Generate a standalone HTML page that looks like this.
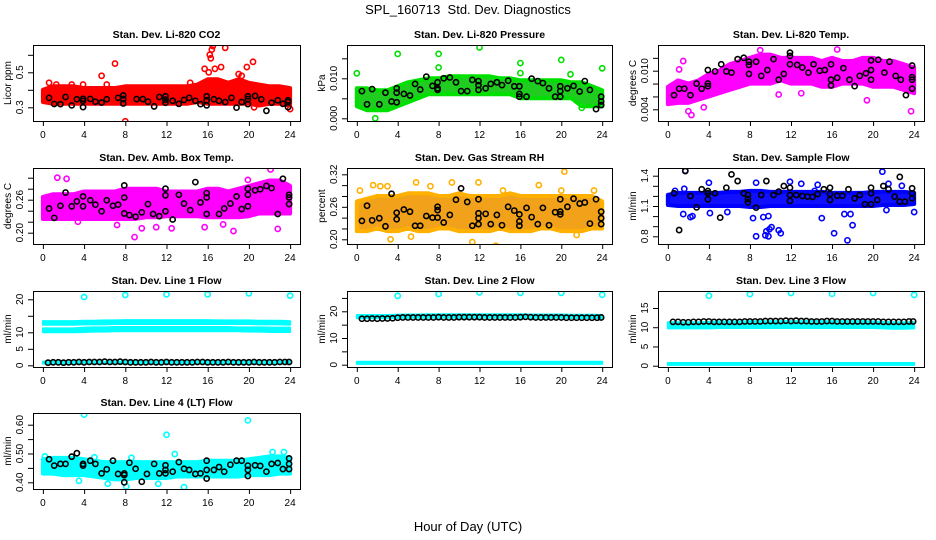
<!DOCTYPE html>
<html><head><meta charset="utf-8"><title>SPL_160713 Std. Dev. Diagnostics</title>
<style>
html,body{margin:0;padding:0;background:#fff;}
svg{display:block;font-family:"Liberation Sans",Arial,sans-serif;}
</style></head>
<body>
<svg id="chart" width="936" height="540" viewBox="0 0 936 540" xmlns="http://www.w3.org/2000/svg">
<text x="468" y="14" text-anchor="middle" font-size="13" style="white-space:pre">SPL_160713  Std. Dev. Diagnostics</text>
<text x="468" y="531" text-anchor="middle" font-size="13">Hour of Day (UTC)</text>
</svg>
<script>
// ---------- DATA ----------
const HOURS=[0,1,2,3,4,5,6,7,8,9,10,11,12,13,14,15,16,17,18,19,20,21,22,23,24];
const xTicks=[0,4,8,12,16,20,24];
const xTickLabels=["0","4","8","12","16","20","24"];
const halfHours=[0.5,1,1.5,2,2.5,3,3.5,4,4.5,5,5.5,6,6.5,7,7.5,8,8.5,9,9.5,10,10.5,11,11.5,12,12.5,13,13.5,14,14.5,15,15.5,16,16.5,17,17.5,18,18.5,19,19.5,20,20.5,21,21.5,22,22.5,23,23.5,23.9];
const spikeHours=[4,8,12,16,20,24];

// Panel 1 CO2
const lo1=[0.33,0.32,0.32,0.32,0.32,0.32,0.32,0.32,0.32,0.32,0.32,0.32,0.32,0.32,0.32,0.33,0.32,0.32,0.32,0.32,0.32,0.31,0.32,0.32,0.31];
const hi1=[0.40,0.42,0.42,0.42,0.41,0.41,0.41,0.41,0.42,0.42,0.42,0.42,0.42,0.42,0.42,0.43,0.46,0.46,0.44,0.46,0.44,0.43,0.42,0.42,0.41];
const ox1=[0.6,1.3,2.8,3.9,5.7,6.2,7,8,14.3,15.7,16.2,16.4,16.5,16.3,16.7,17.3,17.7,19,19.3,19.8,20.4,20.5,24,16.1];
const oy1=[0.44,0.43,0.43,0.43,0.48,0.43,0.55,0.22,0.44,0.52,0.60,0.63,0.65,0.58,0.52,0.53,0.64,0.49,0.48,0.53,0.56,0.30,0.29,0.50];
const bx1=[0.6,1.1,1.7,2.2,2.8,3.3,3.9,3.9,3.9,4.6,5.1,5.7,6.2,7.3,7.8,7.8,7.8,9.1,9.7,10.2,10.8,11.3,11.9,11.9,11.9,12.6,13.2,13.7,14.2,14.8,15.3,15.9,15.9,15.9,16.6,17.1,17.7,18.3,18.8,19.3,19.9,19.9,19.9,20.6,21.2,21.7,22.2,22.8,23.3,23.8,23.8,23.8];
const by1=[0.354,0.319,0.318,0.359,0.311,0.346,0.349,0.337,0.301,0.348,0.332,0.327,0.346,0.354,0.368,0.347,0.322,0.347,0.347,0.332,0.305,0.359,0.363,0.344,0.326,0.337,0.320,0.342,0.354,0.337,0.318,0.363,0.340,0.311,0.346,0.337,0.330,0.354,0.298,0.330,0.363,0.347,0.318,0.365,0.346,0.280,0.326,0.340,0.320,0.340,0.330,0.301];

// Panel 2 Pressure
const lo2=[0.003,0.002,0.002,0.002,0.003,0.004,0.005,0.006,0.006,0.006,0.006,0.006,0.006,0.006,0.006,0.006,0.005,0.005,0.005,0.005,0.005,0.005,0.003,0.003,0.003];
const hi2=[0.0075,0.0075,0.007,0.007,0.008,0.009,0.0095,0.010,0.010,0.0105,0.0105,0.0105,0.0105,0.0105,0.010,0.010,0.0095,0.0095,0.0095,0.0095,0.0095,0.009,0.009,0.008,0.007];
const ox2=[0,4,8,8,12,16,16,20,20.9,24,1.8,22];
const oy2=[0.01125,0.0161,0.0161,0.0127,0.0177,0.0138,0.0113,0.0146,0.011,0.0125,0.0,0.0026];
const bx2=[0.5,1.0,1.5,2.2,2.8,3.4,3.9,3.9,3.9,4.6,5.2,5.7,6.2,6.8,7.4,7.9,7.9,7.9,8.5,9.1,9.7,10.2,10.8,11.3,11.9,11.9,11.9,12.6,13.1,13.7,14.2,14.8,15.4,15.9,15.9,15.9,16.6,17.1,17.7,18.2,18.8,19.4,19.9,19.9,19.9,20.6,21.2,21.8,22.3,22.8,23.4,23.9,23.9,23.9];
const by2=[0.0068,0.0035,0.0073,0.0035,0.0064,0.0042,0.0075,0.0064,0.0040,0.0061,0.0057,0.0086,0.0072,0.0104,0.0081,0.0090,0.0075,0.0071,0.0100,0.0102,0.0090,0.0068,0.0068,0.0096,0.0093,0.0083,0.0071,0.0075,0.0086,0.0090,0.0083,0.0094,0.0080,0.0080,0.0061,0.0054,0.0054,0.0099,0.0093,0.0088,0.0075,0.0054,0.0080,0.0068,0.0054,0.0075,0.0081,0.0067,0.0093,0.0071,0.0023,0.0054,0.0042,0.0033];

// Panel 3 Li-820 Temp
const lo3=[0.0048,0.005,0.005,0.0055,0.006,0.0065,0.007,0.0075,0.008,0.008,0.008,0.0085,0.008,0.008,0.008,0.0075,0.0075,0.008,0.008,0.008,0.0075,0.0075,0.0075,0.007,0.0065];
const hi3=[0.0075,0.0085,0.008,0.0085,0.0095,0.010,0.011,0.0115,0.012,0.0125,0.0125,0.012,0.012,0.012,0.012,0.0115,0.012,0.0115,0.0115,0.012,0.012,0.0115,0.0115,0.011,0.0105];
const ox3=[1.5,2.0,2.3,3.5,10.8,13,16.5,19.4,23.7,9,1.1];
const oy3=[0.0115,0.0037,0.0031,0.0043,0.0063,0.0065,0.0133,0.0054,0.0037,0.0132,0.0102];
const bx3=[0.6,1.1,1.6,2.2,2.8,3.3,3.9,3.9,3.9,4.6,5.2,5.7,6.2,6.8,7.4,7.9,7.9,7.9,8.6,9.1,9.7,10.3,10.8,11.3,11.9,11.9,11.9,12.6,13.1,13.7,14.2,14.8,15.3,15.9,15.9,15.9,16.5,17.1,17.7,18.2,18.7,19.3,19.8,19.8,19.8,20.5,21.1,21.6,22.2,22.7,23.2,23.8,23.8,23.8,23.8];
const by3=[0.0062,0.0072,0.0072,0.0062,0.0080,0.0072,0.0101,0.0080,0.0076,0.0099,0.0110,0.0099,0.0097,0.0118,0.0120,0.0114,0.0109,0.0095,0.0114,0.0092,0.0101,0.0118,0.0086,0.0095,0.0128,0.0123,0.0110,0.0109,0.0105,0.0097,0.0110,0.0100,0.0101,0.0110,0.0086,0.0077,0.0089,0.0104,0.0086,0.0076,0.0092,0.0096,0.0116,0.0101,0.0086,0.0117,0.0097,0.0114,0.0092,0.0086,0.0062,0.0108,0.0090,0.0086,0.0072];

// Panel 4 Amb Box Temp
const lo4=[0.225,0.225,0.225,0.225,0.225,0.225,0.225,0.225,0.225,0.225,0.228,0.228,0.23,0.23,0.23,0.23,0.228,0.228,0.228,0.228,0.23,0.235,0.235,0.235,0.235];
const hi4=[0.265,0.27,0.27,0.27,0.275,0.275,0.275,0.275,0.28,0.28,0.28,0.28,0.275,0.275,0.275,0.275,0.28,0.28,0.275,0.28,0.285,0.29,0.295,0.295,0.285];
const ox4=[1.4,2.3,8.9,9.6,11,12.5,17.5,18.5,22.8,22.1,19.9,15.7,3.4,7.2];
const oy4=[0.30,0.298,0.192,0.208,0.21,0.208,0.215,0.203,0.207,0.315,0.296,0.21,0.22,0.214];
const bx4=[0.6,1.1,1.7,2.2,2.8,3.3,3.9,3.9,4.6,5.1,5.7,6.2,6.8,7.3,7.9,7.9,7.9,8.4,9.0,9.6,10.2,10.7,11.3,11.9,11.9,11.9,12.6,13.2,13.7,14.3,14.8,15.3,15.9,15.9,15.9,17.1,17.6,18.2,18.8,19.3,19.9,19.9,19.9,20.6,21.1,21.7,22.2,22.8,23.3,23.9,23.9,23.9];
const by4=[0.244,0.227,0.249,0.273,0.248,0.257,0.266,0.248,0.259,0.251,0.239,0.259,0.249,0.251,0.286,0.264,0.235,0.232,0.229,0.237,0.252,0.234,0.230,0.280,0.268,0.239,0.224,0.269,0.253,0.241,0.292,0.255,0.272,0.264,0.234,0.234,0.244,0.253,0.266,0.243,0.280,0.269,0.248,0.277,0.279,0.285,0.281,0.234,0.298,0.269,0.264,0.252];

// Panel 5 Gas Stream RH
const lo5=[0.215,0.215,0.22,0.215,0.215,0.22,0.215,0.215,0.22,0.22,0.215,0.215,0.215,0.215,0.22,0.215,0.215,0.215,0.22,0.22,0.215,0.215,0.215,0.22,0.22];
const hi5=[0.27,0.275,0.28,0.28,0.28,0.285,0.285,0.285,0.28,0.28,0.285,0.28,0.28,0.28,0.28,0.285,0.28,0.28,0.28,0.28,0.28,0.28,0.28,0.28,0.27];
const ox5=[0.3,1.6,2.3,3,5.8,7.2,9.3,11.9,13.6,11.3,20.3,20,21.5,17.8,5.3,23.2,3.3,14.3];
const oy5=[0.29,0.30,0.298,0.298,0.305,0.298,0.305,0.305,0.188,0.195,0.325,0.29,0.208,0.30,0.205,0.29,0.20,0.29];
const bx5=[0.5,1.0,1.5,2.2,2.8,3.4,3.9,3.9,4.6,5.2,5.7,6.2,6.8,7.4,7.9,7.9,7.9,8.5,9.1,9.7,10.2,10.8,11.3,11.9,11.9,11.9,11.9,12.6,13.1,13.7,14.2,14.8,15.4,15.9,15.9,15.9,16.6,17.1,17.7,18.2,18.8,19.4,19.9,19.9,19.9,20.6,21.2,21.8,22.3,22.8,23.4,23.9,23.9,23.9];
const by5=[0.234,0.262,0.235,0.239,0.224,0.284,0.249,0.237,0.255,0.251,0.225,0.225,0.243,0.240,0.260,0.254,0.240,0.231,0.245,0.273,0.294,0.269,0.225,0.274,0.248,0.239,0.228,0.247,0.228,0.245,0.226,0.260,0.253,0.246,0.233,0.225,0.258,0.241,0.228,0.258,0.226,0.250,0.274,0.251,0.246,0.260,0.275,0.266,0.268,0.229,0.274,0.251,0.239,0.228];

// Panel 6 Sample Flow
const lo6=[1.11,1.10,1.10,1.10,1.10,1.10,1.10,1.10,1.09,1.09,1.10,1.10,1.10,1.10,1.10,1.10,1.10,1.10,1.10,1.10,1.10,1.11,1.11,1.11,1.12];
const hi6=[1.21,1.23,1.23,1.23,1.23,1.23,1.24,1.24,1.25,1.25,1.24,1.24,1.24,1.24,1.24,1.24,1.23,1.23,1.23,1.23,1.24,1.24,1.24,1.24,1.23];
const ox6=[1.5,2.2,2.4,4.1,5.8,8.3,8.6,9.5,9.6,9.9,10.1,10.8,11,9.8,9.3,9.8,11.9,16.2,15,17.2,18,17.8,17.5,20.9,21.5,21.3,22.8,24,4,1.7,0.7,1.6,8.6,13,14.6,14.3];
const oy6=[1.02,0.99,1.0,1.03,1.04,0.98,0.80,0.81,0.85,0.87,0.89,0.86,0.83,0.80,0.99,1.0,1.34,0.83,0.98,1.02,0.91,1.02,0.76,1.44,1.32,1.06,1.30,1.04,1.33,1.45,1.25,1.27,1.33,1.32,1.31,1.25];
const bx6=[0.6,1.1,1.7,2.2,2.8,3.3,3.9,3.9,3.9,4.6,5.1,5.7,6.2,6.8,7.4,7.8,7.8,7.8,8.6,9.1,9.6,10.3,10.8,11.3,11.9,11.9,11.9,12.5,13.1,13.6,14.1,14.6,15.2,15.8,15.8,15.8,16.5,17.0,17.6,18.2,18.7,19.2,19.8,19.8,19.8,20.4,21.0,21.5,22.1,22.6,22.6,23.1,23.8,23.8,23.8];
const by6=[1.226,0.862,1.446,1.199,1.087,1.265,1.248,1.166,1.226,1.226,0.985,1.281,1.413,1.347,1.226,1.209,1.170,1.137,1.084,1.209,1.347,1.209,1.242,1.298,1.281,1.209,1.150,1.209,1.199,1.193,1.190,1.219,1.265,1.281,1.219,1.160,1.202,1.202,1.265,1.176,1.209,1.117,1.281,1.226,1.117,1.160,1.298,1.265,1.193,1.143,1.388,1.143,1.275,1.226,1.176];

// Panel 7 Line 1 Flow
const lo7a=[12.3,12.3,12.3,12.3,12.4,12.4,12.4,12.5,12.5,12.5,12.5,12.5,12.5,12.5,12.5,12.5,12.5,12.5,12.5,12.5,12.5,12.4,12.4,12.4,12.3];
const hi7a=[13.4,13.4,13.4,13.4,13.5,13.5,13.6,13.6,13.7,13.7,13.7,13.7,13.7,13.7,13.7,13.7,13.7,13.6,13.6,13.6,13.6,13.5,13.5,13.5,13.4];
const lo7b=[10.0,10.0,10.0,10.0,10.1,10.2,10.2,10.3,10.3,10.3,10.3,10.3,10.3,10.3,10.3,10.3,10.3,10.3,10.3,10.3,10.2,10.2,10.1,10.1,10.1];
const hi7b=[11.2,11.2,11.2,11.2,11.4,11.5,11.5,11.6,11.6,11.6,11.6,11.6,11.6,11.6,11.6,11.6,11.6,11.6,11.6,11.5,11.5,11.5,11.4,11.4,11.4];
const lo7c=[0.5,0.5,0.5,0.5,0.5,0.5,0.5,0.5,0.5,0.5,0.5,0.5,0.5,0.5,0.5,0.5,0.5,0.5,0.5,0.5,0.5,0.5,0.5,0.5,0.5];
const hi7c=[1.1,1.1,1.1,1.1,1.2,1.1,1.1,1.1,1.2,1.1,1.1,1.1,1.2,1.1,1.1,1.1,1.2,1.1,1.1,1.1,1.2,1.1,1.1,1.1,1.2];
const oy7=[20.7,21.3,21.5,21.5,21.8,21.1];
const by7=[0.8,0.9,0.9,0.8,0.9,0.9,1.0,0.9,1.0,1.0,1.0,1.1,1.0,1.0,1.1,1.0,0.9,0.9,0.9,0.9,1.0,0.9,0.9,1.0,0.9,0.9,0.9,0.9,0.9,1.0,1.0,0.9,0.9,0.9,0.9,1.0,0.9,0.9,0.9,0.9,1.0,0.9,0.9,0.9,0.9,1.0,1.0,1.0];

// Panel 8 Line 2 Flow
const lo8a=[17.4,17.4,17.4,17.4,17.5,17.6,17.6,17.6,17.6,17.6,17.6,17.6,17.6,17.6,17.6,17.6,17.6,17.6,17.6,17.6,17.6,17.5,17.5,17.5,17.4];
const hi8a=[18.6,18.6,18.6,18.6,18.7,18.8,18.8,18.9,18.9,18.9,18.9,18.9,18.9,18.9,18.9,18.9,18.9,18.8,18.8,18.8,18.8,18.7,18.7,18.7,18.6];
const lo8b=[0.3,0.3,0.3,0.3,0.3,0.3,0.3,0.3,0.3,0.3,0.3,0.3,0.3,0.3,0.3,0.3,0.3,0.3,0.3,0.3,0.3,0.3,0.3,0.3,0.3];
const hi8b=[1.1,1.1,1.1,1.1,1.1,1.1,1.1,1.1,1.1,1.1,1.1,1.1,1.1,1.1,1.1,1.1,1.1,1.1,1.1,1.1,1.1,1.1,1.1,1.1,1.1];
const oy8=[25.8,26.5,27.1,26.9,26.9,26.2];
const by8=[17.2,17.2,17.3,17.2,17.3,17.3,17.4,17.6,17.7,17.7,17.7,17.7,17.7,17.7,17.7,17.8,17.7,17.7,17.7,17.8,17.8,17.8,17.8,17.8,17.7,17.7,17.7,17.7,17.7,17.7,17.7,17.8,17.9,17.8,17.7,17.7,17.7,17.7,17.7,17.7,17.6,17.6,17.6,17.6,17.6,17.6,17.6,17.7];

// Panel 9 Line 3 Flow
const lo9a=[9.7,9.7,9.7,9.7,9.7,9.8,9.8,9.8,9.8,9.8,9.8,9.8,9.8,9.8,9.8,9.8,9.8,9.8,9.8,9.8,9.8,9.7,9.6,9.6,9.7];
const hi9a=[11.3,11.3,11.3,11.3,11.4,11.5,11.5,11.5,11.6,11.6,11.6,11.6,11.6,11.6,11.7,11.6,11.6,11.6,11.6,11.6,11.5,11.4,11.3,11.3,11.3];
const lo9b=[0.2,0.2,0.2,0.2,0.2,0.2,0.2,0.2,0.2,0.2,0.2,0.2,0.2,0.2,0.2,0.2,0.2,0.2,0.2,0.2,0.2,0.2,0.2,0.2,0.2];
const hi9b=[0.7,0.7,0.7,0.7,0.7,0.7,0.7,0.7,0.7,0.7,0.7,0.7,0.7,0.7,0.7,0.7,0.7,0.7,0.7,0.7,0.7,0.7,0.7,0.7,0.7];
const oy9=[18.2,18.6,18.9,18.7,18.9,18.4];
const by9=[11.4,11.4,11.3,11.3,11.4,11.4,11.5,11.5,11.4,11.4,11.4,11.4,11.4,11.4,11.5,11.5,11.5,11.5,11.6,11.6,11.6,11.6,11.7,11.6,11.7,11.6,11.6,11.5,11.5,11.5,11.6,11.6,11.5,11.5,11.5,11.5,11.5,11.5,11.5,11.5,11.5,11.4,11.4,11.4,11.4,11.4,11.5,11.5];

// Panel 10 Line 4 (LT) Flow
const lo10=[0.43,0.43,0.425,0.425,0.425,0.42,0.415,0.41,0.41,0.415,0.415,0.415,0.415,0.42,0.42,0.42,0.42,0.42,0.42,0.42,0.425,0.425,0.425,0.43,0.43];
const hi10=[0.48,0.485,0.485,0.485,0.48,0.475,0.47,0.47,0.47,0.47,0.47,0.47,0.47,0.47,0.47,0.47,0.475,0.475,0.475,0.475,0.48,0.485,0.49,0.49,0.485];
const ox10=[4,12,19.9,8.1,13.7,6.3,3.5,11.2,22.3,23.4,12.8,0.2,8.6,5];
const oy10=[0.635,0.565,0.615,0.385,0.383,0.395,0.405,0.395,0.505,0.505,0.498,0.49,0.485,0.487];
const bx10=[0.6,1.1,1.7,2.2,2.8,3.3,3.9,3.9,4.6,5.1,5.7,6.2,6.8,7.3,7.9,7.9,7.9,8.4,9.0,9.6,10.1,10.8,11.3,11.9,11.9,11.9,12.6,13.2,13.7,14.2,14.8,15.3,15.9,15.9,15.9,16.6,17.1,17.6,18.2,18.8,19.3,19.9,19.9,19.9,20.6,21.1,21.7,22.2,22.8,23.3,23.9,23.9,23.9];
const by10=[0.480,0.458,0.464,0.464,0.489,0.501,0.464,0.458,0.475,0.464,0.431,0.445,0.475,0.429,0.431,0.400,0.425,0.468,0.447,0.402,0.429,0.464,0.431,0.459,0.443,0.431,0.437,0.470,0.447,0.443,0.429,0.431,0.475,0.443,0.413,0.443,0.453,0.437,0.461,0.475,0.475,0.458,0.443,0.422,0.459,0.457,0.437,0.464,0.467,0.446,0.483,0.464,0.446];

// Y tick arrays
const yt1=[0.3,0.4,0.5,0.6], yl1=["0.3","","0.5",""];
const yt2=[0,0.005,0.01,0.015], yl2=["0.000","","0.010",""];
const yt3=[0.004,0.006,0.008,0.010,0.012], yl3=["0.004","","","0.010",""];
const yt4=[0.20,0.22,0.24,0.26,0.28,0.30], yl4=["0.20","","","0.26","",""];
const yt5=[0.20,0.22,0.24,0.26,0.28,0.30,0.32], yl5=["0.20","","","0.26","","","0.32"];
const yt6=[0.8,0.9,1.0,1.1,1.2,1.3,1.4], yl6=["0.8","","","1.1","","","1.4"];
const yt7=[0,5,10,15,20], yl7=["0","5","10","","20"];
const yt8=[0,5,10,15,20,25], yl8=["0","","10","","20",""];
const yt9=[0,5,10,15], yl9=["0","5","10","15"];
const yt10=[0.40,0.45,0.50,0.55,0.60], yl10=["0.40","","0.50","","0.60"];

// ---------- LAYOUT ----------
const SVGNS="http://www.w3.org/2000/svg";
const svg=document.getElementById('chart');
const COLS=[[33,300],[347,612],[658,924]];
const ROWS=[45,168,291,413];
const BOXH=76;

const panels=[
 {c:0,r:0,name:'co2',title:'Stan. Dev. Li-820 CO2',ylab:'Licor ppm',cal:[0.3,62.3,0.5,27.3],yt:yt1,yl:yl1,color:'#ff0000',fill:'#ff0000',sw:4,bands:[[lo1,hi1]],ox:ox1,oy:oy1,bx:bx1,by:by1},
 {c:1,r:0,name:'pressure',title:'Stan. Dev. Li-820 Pressure',ylab:'kPa',cal:[0,73.3,0.01,33.3],yt:yt2,yl:yl2,color:'#00e000',fill:'#1fcc1f',sw:4,bands:[[lo2,hi2]],ox:ox2,oy:oy2,bx:bx2,by:by2},
 {c:2,r:0,name:'li820-temp',title:'Stan. Dev. Li-820 Temp.',ylab:'degrees C',cal:[0.004,64.3,0.010,25.7],yt:yt3,yl:yl3,color:'#ff00ff',fill:'#ff00ff',sw:4,bands:[[lo3,hi3]],ox:ox3,oy:oy3,bx:bx3,by:by3},
 {c:0,r:1,name:'amb-box-temp',title:'Stan. Dev. Amb. Box Temp.',ylab:'degrees C',cal:[0.20,64.7,0.26,31.7],yt:yt4,yl:yl4,color:'#ff00ff',fill:'#ff00ff',sw:4,bands:[[lo4,hi4]],ox:ox4,oy:oy4,bx:bx4,by:by4},
 {c:1,r:1,name:'gas-stream-rh',title:'Stan. Dev. Gas Stream RH',ylab:'percent',cal:[0.20,71.3,0.32,6.3],yt:yt5,yl:yl5,color:'#ffb000',fill:'#f2a21a',sw:4,bands:[[lo5,hi5]],ox:ox5,oy:oy5,bx:bx5,by:by5},
 {c:2,r:1,name:'sample-flow',title:'Stan. Dev. Sample Flow',ylab:'ml/min',cal:[0.8,68.3,1.4,7.7],yt:yt6,yl:yl6,color:'#0000ff',fill:'#1010ff',sw:4,bands:[[lo6,hi6]],ox:ox6,oy:oy6,bx:bx6,by:by6},
 {c:0,r:2,name:'line1-flow',title:'Stan. Dev. Line 1 Flow',ylab:'ml/min',cal:[0,74.3,20,8.3],yt:yt7,yl:yl7,color:'#00ffff',fill:'#00ffff',sw:2,bands:[[lo7a,hi7a],[lo7b,hi7b],[lo7c,hi7c]],ox:spikeHours,oy:oy7,bx:halfHours,by:by7},
 {c:1,r:2,name:'line2-flow',title:'Stan. Dev. Line 2 Flow',ylab:'ml/min',cal:[0,73.7,20,20.3],yt:yt8,yl:yl8,color:'#00ffff',fill:'#00ffff',sw:2,bands:[[lo8a,hi8a],[lo8b,hi8b]],ox:spikeHours,oy:oy8,bx:halfHours,by:by8},
 {c:2,r:2,name:'line3-flow',title:'Stan. Dev. Line 3 Flow',ylab:'ml/min',cal:[0,74.7,15,17],yt:yt9,yl:yl9,color:'#00ffff',fill:'#00ffff',sw:2,bands:[[lo9a,hi9a],[lo9b,hi9b]],ox:spikeHours,oy:oy9,bx:halfHours,by:by9},
 {c:0,r:3,name:'line4-flow',title:'Stan. Dev. Line 4 (LT) Flow',ylab:'ml/min',cal:[0.40,69.3,0.60,11.7],yt:yt10,yl:yl10,color:'#00ffff',fill:'#00ffff',sw:4,bands:[[lo10,hi10]],ox:ox10,oy:oy10,bx:bx10,by:by10}
];

function mk(tag,attrs,parent){const e=document.createElementNS(SVGNS,tag);for(const k in attrs)e.setAttribute(k,attrs[k]);(parent||svg).appendChild(e);return e;}

panels.forEach((p,i)=>{
  const L=COLS[p.c][0], R=COLS[p.c][1], T=ROWS[p.r], B=T+BOXH, W=R-L;
  const xs=h=>L+(h+0.96)/25.92*W;
  const ys=v=>T+p.cal[1]+(v-p.cal[0])*(p.cal[3]-p.cal[1])/(p.cal[2]-p.cal[0]);
  const g=mk('g',{});
  
  
  const cid='clip'+i;
  const cp=mk('clipPath',{id:cid},g);
  mk('rect',{x:L,y:T,width:W,height:BOXH},cp);
  const plot=mk('g',{'clip-path':'url(#'+cid+')'},g);
  
  
  p.bands.forEach((bd,bi)=>{
    const lo=bd[0],hi=bd[1];
    let pts=[];
    HOURS.forEach((h,k)=>pts.push(xs(h)+','+ys(hi[k])));
    for(let k=HOURS.length-1;k>=0;k--)pts.push(xs(HOURS[k])+','+ys(lo[k]));
    const poly=mk('polygon',{points:pts.join(' '),fill:p.fill,stroke:p.color,'stroke-width':p.sw,'stroke-linejoin':'round'},plot);
    
    
  });
  p.ox.forEach((x,k)=>{
    const c=mk('circle',{cx:xs(x),cy:ys(p.oy[k]),r:2.6,fill:'none',stroke:p.color,'stroke-width':1.6},plot);
    
    
  });
  p.bx.forEach((x,k)=>{
    const c=mk('circle',{cx:xs(x),cy:ys(p.by[k]),r:2.6,fill:'none',stroke:'#000','stroke-width':1.6},plot);
    
    
  });
  const box=mk('rect',{x:L+0.5,y:T+0.5,width:W,height:BOXH,fill:'none',stroke:'#000','stroke-width':1},g);
  
  
  const t=mk('text',{x:(L+R)/2,y:T-7,'text-anchor':'middle','font-size':10.5,'font-weight':'bold'},g);
  t.textContent=p.title;
  
  
  const xa=mk('g',{},g);
  
  
  mk('line',{x1:xs(xTicks[0]),x2:xs(xTicks[xTicks.length-1]),y1:B+0.5,y2:B+0.5,stroke:'#000'},xa);
  xTicks.forEach((v,k)=>{
    mk('line',{x1:xs(v)+0.5,x2:xs(v)+0.5,y1:B,y2:B+5,stroke:'#000'},xa);
    const tl=mk('text',{x:xs(v),y:B+17,'text-anchor':'middle','font-size':10},xa);
    tl.textContent=xTickLabels[k];
    
    
  });
  const ya=mk('g',{},g);
  
  
  mk('line',{x1:L+0.5,x2:L+0.5,y1:ys(p.yt[0]),y2:ys(p.yt[p.yt.length-1]),stroke:'#000'},ya);
  p.yt.forEach((v,k)=>{
    const yy=ys(v);
    mk('line',{x1:L-5,x2:L,y1:yy+0.5,y2:yy+0.5,stroke:'#000'},ya);
    if(p.yl[k]){
      const tl=mk('text',{x:L-10,y:yy,'text-anchor':'middle','font-size':10,transform:'rotate(-90 '+(L-10)+' '+yy+')'},ya);
      tl.textContent=p.yl[k];
      
      
    }
  });
  const yl=mk('text',{x:L-22,y:T+BOXH/2,'text-anchor':'middle','font-size':10,transform:'rotate(-90 '+(L-22)+' '+(T+BOXH/2)+')'},g);
  yl.textContent=p.ylab;
  
  
});
</script>
</body></html>
